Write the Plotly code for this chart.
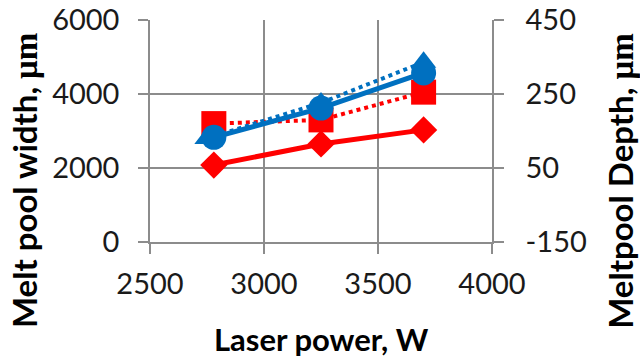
import plotly.graph_objects as go

power = [2780, 3250, 3700]
power_tri = [2750, 3250, 3700]
width_diamond = [2080, 2650, 3030]
width_square = [3200, 3300, 4050]
width_circle = [2830, 3620, 4570]
width_triangle = [2800, 3760, 4860]

depth_tickvals = [-150, 50, 250, 450]
depth_ticktext = ["-150", "50", "250", "450"]

RED = "#FF0000"
BLUE = "#0070C0"
FONT = "Lato"
GRAY = "#8c8c8c"

fig = go.Figure()
fig.add_trace(go.Scatter(x=power, y=width_square, mode="lines+markers",
                         line=dict(color=RED, width=4, dash="dot"),
                         marker=dict(symbol="square", size=25, color=RED)))
fig.add_trace(go.Scatter(x=power, y=width_diamond, mode="lines+markers",
                         line=dict(color=RED, width=5),
                         marker=dict(symbol="diamond", size=21, color=RED)))
fig.add_trace(go.Scatter(x=power_tri, y=width_triangle, mode="lines+markers",
                         line=dict(color=BLUE, width=4, dash="dot"),
                         marker=dict(symbol="triangle-up", size=22, color=BLUE)))
fig.add_trace(go.Scatter(x=power, y=width_circle, mode="lines+markers",
                         line=dict(color=BLUE, width=5),
                         marker=dict(symbol="circle", size=25, color=BLUE)))
# invisible trace to activate secondary axis
fig.add_trace(go.Scatter(x=[2500], y=[-150], yaxis="y2", mode="markers",
                         marker=dict(opacity=0), hoverinfo="skip"))

axis_common = dict(showline=True, linecolor=GRAY, linewidth=1.5,
                   ticks="outside", ticklen=10, tickcolor=GRAY, tickwidth=1.5,
                   tickfont=dict(family=FONT, size=29, color="#1a1a1a"),
                   zeroline=False, automargin=False, ticklabeloverflow="allow")

mu = '<span style="font-family:Liberation Serif">μm</span>'
title_font = dict(family=FONT, size=33, color="black")

fig.update_layout(
    width=640, height=358,
    margin=dict(l=150, r=148, t=20, b=116),
    paper_bgcolor="white", plot_bgcolor="white",
    showlegend=False,
    xaxis=dict(range=[2500, 4000], dtick=500, tick0=2500,
               showgrid=True, gridcolor=GRAY, gridwidth=1.5,
               ticklabelstandoff=5, **axis_common),
    yaxis=dict(range=[0, 6000], dtick=2000, tick0=0,
               showgrid=True, gridcolor=GRAY, gridwidth=1.5,
               ticklabelstandoff=13, **axis_common),
    yaxis2=dict(range=[-150, 450], tickmode="array", tickvals=depth_tickvals,
                ticktext=depth_ticktext, overlaying="y",
                side="right", showgrid=False, ticklabelstandoff=16,
                **axis_common),
    annotations=[
        dict(text="<b>Laser power, W</b>", xref="paper", yref="paper",
             x=0.5, y=-0.437, xanchor="center", yanchor="middle",
             showarrow=False, font=dict(family=FONT, size=31, color="black")),
        dict(text="<b>Melt pool width, " + mu + "</b>", xref="paper", yref="paper",
             x=-0.368, y=0.275, xanchor="center", yanchor="middle", textangle=-90,
             showarrow=False, font=title_font),
        dict(text="<b>Meltpool Depth, " + mu + "</b>", xref="paper", yref="paper",
             x=1.374, y=0.275, xanchor="center", yanchor="middle", textangle=-90,
             showarrow=False, font=title_font),
    ],
)

fig.write_html("out.html", config={"displayModeBar": False},
               post_script="document.body.style.margin='0';document.body.style.overflow='hidden';")
